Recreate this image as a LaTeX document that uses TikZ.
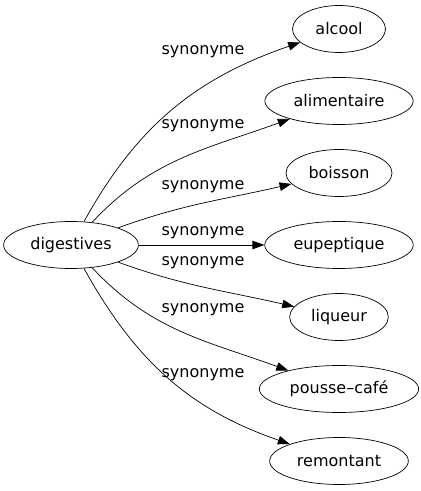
\documentclass[tikz,border=0pt]{standalone}
\usepackage{fontspec}
\setmainfont{DejaVu Sans}
\usetikzlibrary{shapes.geometric,arrows.meta}
\begin{document}
\begin{tikzpicture}[x=1pt,y=1pt]
        \useasboundingbox (0,0) rectangle (421,491);

        \begin{scope}[every node/.style={ellipse, draw, line width=0.7pt, inner xsep=7pt, minimum height=47pt, minimum width=93pt, font=\fontsize{16}{19}\selectfont}]
        \node (dig) at (71,246) {digestives};
        \node (alcool) at (339,462) {alcool};
        \node (alim) at (339,390) {alimentaire};
        \node (boisson) at (339,318) {boisson};
        \node (eupep) at (339,246) {eupeptique};
        \node (liqueur) at (339,174) {liqueur};
        \node (pousse) at (339,102) {pousse–café};
        \node (remont) at (339,30) {remontant};
        \end{scope}

        \begin{scope}[every node/.style={inner sep=0pt, font=\fontsize{16}{19}\selectfont}]
        \node (l1) at (203,439) {synonyme};
        \node (l2) at (203,365) {synonyme};
        \node (l3) at (203,304) {synonyme};
        \node (l4) at (203,258) {synonyme};
        \node (l5) at (203,228) {synonyme};
        \node (l6) at (203,181) {synonyme};
        \node (l7) at (203,116) {synonyme};
        \end{scope}

        \begin{scope}[>={Triangle[length=12pt,width=8.5pt]}, line width=0.7pt]
        \path [->] (dig) edge[out=61,in=199] (alcool);
        \path [->] (dig) edge[out=47,in=200] (alim);
        \path [->] (dig) edge[out=20,in=193] (boisson);
        \path [->] (dig) edge (eupep);
        \path [->] (dig) edge[out=-20,in=167] (liqueur);
        \path [->] (dig) edge[out=-47,in=160] (pousse);
        \path [->] (dig) edge[out=-61,in=161] (remont);
        \end{scope}
    \end{tikzpicture}
\end{document}
